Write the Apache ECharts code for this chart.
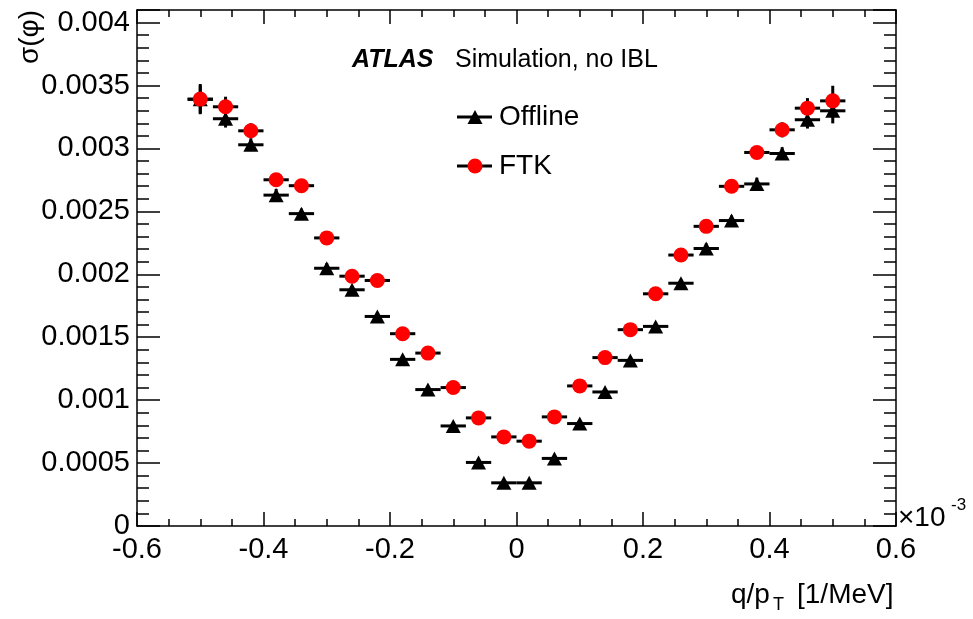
<!DOCTYPE html>
<html>
<head>
<meta charset="utf-8">
<script src="https://cdn.jsdelivr.net/npm/echarts@6/dist/echarts.min.js"></script>
<style>
  html, body { margin: 0; padding: 0; background: #fff; }
  #chart { width: 973px; height: 619px; }
</style>
</head>
<body>
<div id="chart"></div>
<script>
// bin centres of q/pT (x 10^-3 1/MeV), bin width 0.04
var qOverPt = [-0.50, -0.46, -0.42, -0.38, -0.34, -0.30, -0.26, -0.22, -0.18, -0.14, -0.10, -0.06, -0.02,
               0.02, 0.06, 0.10, 0.14, 0.18, 0.22, 0.26, 0.30, 0.34, 0.38, 0.42, 0.46, 0.50];
var binHalfWidth = 0.02;

var offlineSigma = [0.00339, 0.003236, 0.003029, 0.002629, 0.002482, 0.002048, 0.001877, 0.001665, 0.001324,
                    0.001084, 0.000795, 0.000505, 0.000343, 0.000343, 0.000537, 0.000814, 0.001065, 0.001316,
                    0.001586, 0.001929, 0.002205, 0.002427, 0.002718, 0.00296, 0.003228, 0.003299];
var offlineErr = [0.00011, 0.00007, 0.00005, 0.00005, 0.00004, 0.00004, 0.00003, 0.00003, 0.00003, 0.00002,
                  0.00002, 0.00002, 0.00002, 0.00002, 0.00002, 0.00002, 0.00002, 0.00003, 0.00003, 0.00003,
                  0.00004, 0.00004, 0.00005, 0.00005, 0.00007, 0.0001];

var ftkSigma = [0.003392, 0.003331, 0.00314, 0.002751, 0.002704, 0.002289, 0.001985, 0.001951, 0.001528,
                0.001374, 0.0011, 0.000859, 0.000708, 0.000674, 0.000867, 0.001113, 0.001338, 0.00156,
                0.001845, 0.002153, 0.002381, 0.002699, 0.002968, 0.003148, 0.00332, 0.003378];
var ftkErr = [0.00012, 0.00008, 0.00006, 0.00005, 0.00005, 0.00004, 0.00004, 0.00003, 0.00003, 0.00003,
              0.00002, 0.00002, 0.00002, 0.00002, 0.00002, 0.00002, 0.00003, 0.00003, 0.00003, 0.00003,
              0.00004, 0.00005, 0.00005, 0.00006, 0.00008, 0.00012];

var FONT = '"Liberation Sans", Arial, Helvetica, sans-serif';

function points(ys, errs) {
    return qOverPt.map(function (x, i) { return [x, ys[i], errs[i]]; });
}

// horizontal bar = bin width, vertical bar = stat. error
function renderErrors(params, api) {
    var x = api.value(0), y = api.value(1), e = api.value(2);
    var l = api.coord([x - binHalfWidth, y]);
    var r = api.coord([x + binHalfWidth, y]);
    var t = api.coord([x, y + e]);
    var b = api.coord([x, y - e]);
    var st = { stroke: '#000', lineWidth: 3 };
    return {
        type: 'group',
        children: [
            { type: 'line', shape: { x1: l[0], y1: l[1], x2: r[0], y2: r[1] }, style: st },
            { type: 'line', shape: { x1: t[0], y1: t[1], x2: b[0], y2: b[1] }, style: st }
        ]
    };
}

var chart = echarts.init(document.getElementById('chart'));

var tickLine = { color: '#000', width: 1.5 };
var yBase = {
    type: 'value', min: 0, max: 0.0041,
    splitLine: { show: false }
};
var xBase = {
    type: 'value', min: -0.6, max: 0.6, interval: 0.2,
    splitLine: { show: false },
    axisLine: { show: true, onZero: false, lineStyle: tickLine },
    axisTick: { show: true, inside: true, length: 14, lineStyle: tickLine },
    minorTick: { show: true, splitNumber: 4, length: 7, lineStyle: tickLine }
};

var option = {
    backgroundColor: '#fff',
    animation: false,
    grid: { left: 137, right: 77, top: 10, bottom: 93 },
    xAxis: [
        Object.assign({}, xBase, {
            position: 'bottom',
            axisLabel: {
                color: '#000', fontSize: 29, fontFamily: FONT, margin: 9,
                formatter: function (v) { return Math.abs(v) < 1e-9 ? '0' : (+v.toFixed(1)).toString(); }
            }
        }),
        Object.assign({}, xBase, {
            position: 'top',
            axisLabel: { show: false }
        })
    ],
    yAxis: [
        Object.assign({}, yBase, {
            position: 'left', interval: 0.0005,
            axisLine: { show: true, onZero: false, lineStyle: tickLine },
            axisTick: { show: true, inside: true, length: 23, lineStyle: tickLine },
            axisLabel: {
                color: '#000', fontSize: 29, fontFamily: FONT, margin: 7,
                formatter: function (v) {
                    var k = Math.round(v / 0.0005);
                    if (Math.abs(v - k * 0.0005) > 1e-9 || k > 8) return '';
                    return k === 0 ? '0' : (+(k * 0.0005).toFixed(4)).toString();
                }
            }
        }),
        Object.assign({}, yBase, {
            position: 'left', interval: 0.0001,
            axisLine: { show: false, onZero: false },
            axisTick: { show: true, inside: true, length: 12, lineStyle: tickLine },
            axisLabel: { show: false }
        }),
        Object.assign({}, yBase, {
            position: 'right', interval: 0.0005,
            axisLine: { show: true, onZero: false, lineStyle: tickLine },
            axisTick: { show: true, inside: true, length: 23, lineStyle: tickLine },
            axisLabel: { show: false }
        }),
        Object.assign({}, yBase, {
            position: 'right', interval: 0.0001,
            axisLine: { show: false, onZero: false },
            axisTick: { show: true, inside: true, length: 12, lineStyle: tickLine },
            axisLabel: { show: false }
        })
    ],
    series: [
        {
            name: 'Offline errors', type: 'custom', renderItem: renderErrors,
            xAxisIndex: 0, yAxisIndex: 0, encode: { x: 0, y: 1 }, z: 2,
            data: points(offlineSigma, offlineErr)
        },
        {
            name: 'Offline', type: 'scatter', symbol: 'triangle', symbolSize: [15, 14],
            xAxisIndex: 0, yAxisIndex: 0, itemStyle: { color: '#000', opacity: 1 }, z: 3,
            data: points(offlineSigma, offlineErr)
        },
        {
            name: 'FTK errors', type: 'custom', renderItem: renderErrors,
            xAxisIndex: 0, yAxisIndex: 0, encode: { x: 0, y: 1 }, z: 4,
            data: points(ftkSigma, ftkErr)
        },
        {
            name: 'FTK', type: 'scatter', symbol: 'circle', symbolSize: 15,
            xAxisIndex: 0, yAxisIndex: 0, itemStyle: { color: '#ff0000', opacity: 1 }, z: 5,
            data: points(ftkSigma, ftkErr)
        }
    ],
    graphic: [
        // ATLAS label
        { type: 'text', left: 352, top: 48, style: { text: 'ATLAS', font: 'italic bold 25px ' + FONT, fill: '#000' } },
        { type: 'text', left: 455, top: 48, style: { text: 'Simulation, no IBL', font: '25px ' + FONT, fill: '#000' } },
        // legend
        { type: 'line', shape: { x1: 457, y1: 117, x2: 492, y2: 117 }, style: { stroke: '#000', lineWidth: 3 } },
        { type: 'polygon', shape: { points: [[475, 110], [482.5, 124], [467.5, 124]] }, style: { fill: '#000' } },
        { type: 'text', x: 499, y: 117, style: { text: 'Offline', font: '28px ' + FONT, fill: '#000', verticalAlign: 'middle' } },
        { type: 'line', shape: { x1: 457, y1: 166, x2: 492, y2: 166 }, style: { stroke: '#000', lineWidth: 3 } },
        { type: 'circle', shape: { cx: 475, cy: 166, r: 7.5 }, style: { fill: '#ff0000' } },
        { type: 'text', x: 499, y: 166, style: { text: 'FTK', font: '28px ' + FONT, fill: '#000', verticalAlign: 'middle' } },
        // axis titles
        { type: 'text', x: 30, y: 10, rotation: Math.PI / 2,
          style: { text: 'σ(φ)', font: '28px ' + FONT, fill: '#000', align: 'right', verticalAlign: 'middle' } },
        { type: 'text', x: 731, y: 595, style: { text: 'q/p', font: '28px ' + FONT, fill: '#000', verticalAlign: 'middle' } },
        { type: 'text', x: 773, y: 605, style: { text: 'T', font: '18px ' + FONT, fill: '#000', verticalAlign: 'middle' } },
        { type: 'text', x: 797, y: 595, style: { text: '[1/MeV]', font: '28px ' + FONT, fill: '#000', verticalAlign: 'middle' } },
        { type: 'text', x: 898, y: 518, style: { text: '×10', font: '28px ' + FONT, fill: '#000', verticalAlign: 'middle' } },
        { type: 'text', x: 951, y: 505, style: { text: '-3', font: '17px ' + FONT, fill: '#000', verticalAlign: 'middle' } }
    ]
};

chart.setOption(option);
</script>
</body>
</html>
